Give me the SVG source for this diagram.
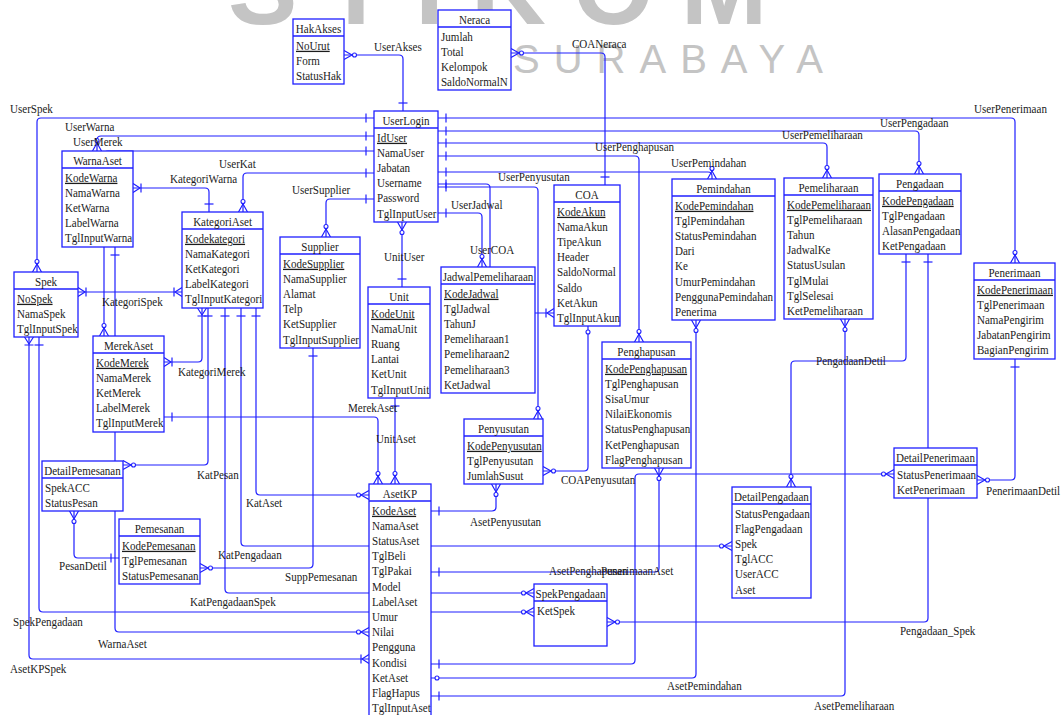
<svg xmlns="http://www.w3.org/2000/svg" width="1063" height="715" viewBox="0 0 1063 715">
<style>
  .bg { fill: #ffffff; }
  .wm { font-family: "Liberation Sans", Arial, sans-serif; fill: #c4c4c4; }
  .ln { fill: none; stroke: #1f1fff; stroke-width: 1.2; }
  .mkl { fill: none; stroke: #1f1fff; stroke-width: 1.2; }
  .mkc { fill: #ffffff; stroke: #1f1fff; stroke-width: 1.1; }
  .box { fill: #ffffff; stroke: #1f1fff; stroke-width: 1.3; }
  .sep { stroke: #1f1fff; stroke-width: 1.3; }
  .t { font-family: "Liberation Serif", "Times New Roman", serif; font-size: 13px; fill: #1c1c1c;
       transform-box: fill-box; transform-origin: 0 0; transform: scaleX(0.85); }
  .h { font-family: "Liberation Serif", "Times New Roman", serif; font-size: 13px; fill: #1c1c1c; text-anchor: middle;
       transform-box: fill-box; transform-origin: 50% 50%; transform: scaleX(0.85); }
  .k { text-decoration: underline; }
</style>
<defs>
  <!-- relationship end symbols; the path end sits on the entity border -->
  <marker id="one" viewBox="-16 -8 20 16" markerWidth="20" markerHeight="16" refX="0" refY="0" markerUnits="userSpaceOnUse" orient="auto-start-reverse">
    <path class="mkl" d="M-8,-4.5 V4.5"/>
  </marker>
  <marker id="zero" viewBox="-16 -8 20 16" markerWidth="20" markerHeight="16" refX="0" refY="0" markerUnits="userSpaceOnUse" orient="auto-start-reverse">
    <circle class="mkc" cx="-6" cy="0" r="2"/>
  </marker>
  <marker id="many0" viewBox="-16 -8 20 16" markerWidth="20" markerHeight="16" refX="0" refY="0" markerUnits="userSpaceOnUse" orient="auto-start-reverse">
    <path class="mkl" d="M-8,0 L0,-4.5 M-8,0 L0,4.5"/>
    <circle class="mkc" cx="-10.5" cy="0" r="2"/>
  </marker>
  <marker id="many1" viewBox="-16 -8 20 16" markerWidth="20" markerHeight="16" refX="0" refY="0" markerUnits="userSpaceOnUse" orient="auto-start-reverse">
    <path class="mkl" d="M-7,0 L0,-4.5 M-7,0 L0,4.5 M-8,-4.5 V4.5"/>
  </marker>
</defs>

<rect class="bg" x="0" y="0" width="1063" height="715"/>

<!-- watermark -->
<g id="watermark">
  <text class="wm" x="228" y="24" font-size="104" font-weight="bold" letter-spacing="27">STIKOM</text>
  <text class="wm" x="513" y="73" font-size="40" letter-spacing="14">SURABAYA</text>
</g>

<g id="connectors">
  <path id="UserAkses" class="ln" d="M344,55 H399 Q403,55 403,59 V111" marker-start="url(#many0)" marker-end="url(#one)"/>
  <path id="COANeraca" class="ln" d="M511,53 H601 Q605,53 605,57 V185" marker-start="url(#many0)" marker-end="url(#one)"/>
  <path id="UserSpek" class="ln" d="M374,118 H41 Q37,118 37,122 V272" marker-start="url(#one)" marker-end="url(#many0)"/>
  <path id="UserWarna" class="ln" d="M374,136 H101 Q97,136 97,140 V151" marker-start="url(#one)" marker-end="url(#many0)"/>
  <path id="UserMerek" class="ln" d="M374,151 H108 Q104,151 104,155 V336" marker-start="url(#one)" marker-end="url(#many0)"/>
  <path id="UserKat" class="ln" d="M374,173 H247 Q243,173 243,177 V212" marker-start="url(#one)" marker-end="url(#many0)"/>
  <path id="UserSupplier" class="ln" d="M374,199 H330 Q326,199 326,203 V237" marker-start="url(#one)" marker-end="url(#many0)"/>
  <path id="UserPenerimaan" class="ln" d="M438,118 H1011 Q1015,118 1015,122 V263" marker-start="url(#one)" marker-end="url(#many0)"/>
  <path id="UserPengadaan" class="ln" d="M438,131 H915 Q919,131 919,135 V174" marker-start="url(#one)" marker-end="url(#many0)"/>
  <path id="UserPemeliharaan" class="ln" d="M438,143 H823 Q827,143 827,147 V178" marker-start="url(#one)" marker-end="url(#many0)"/>
  <path id="UserPenghapusan" class="ln" d="M438,156 H635 Q639,156 639,160 V342" marker-start="url(#one)" marker-end="url(#many0)"/>
  <path id="UserPemindahan" class="ln" d="M438,172 H708 Q712,172 712,176 V179" marker-start="url(#one)" marker-end="url(#many0)"/>
  <path id="UserPenyusutan" class="ln" d="M438,187 H534 Q538,187 538,191 V419" marker-start="url(#one)" marker-end="url(#many0)"/>
  <path id="UserCOA" class="ln" d="M438,184 H486 Q490,184 490,188 V309 Q490,313 494,313 H554" marker-start="url(#one)" marker-end="url(#many1)"/>
  <path id="UserJadwal" class="ln" d="M438,213 H478 Q482,213 482,217 V267" marker-start="url(#one)" marker-end="url(#many0)"/>
  <path id="UnitUser" class="ln" d="M402,222 V287" marker-start="url(#many0)" marker-end="url(#one)"/>
  <path id="KategoriWarna" class="ln" d="M133,188 H205 Q209,188 209,192 V212" marker-start="url(#many1)" marker-end="url(#one)"/>
  <path id="KategoriSpek" class="ln" d="M78,292 H182" marker-start="url(#many1)" marker-end="url(#many1)"/>
  <path id="KategoriMerek" class="ln" d="M164,362 H198 Q202,362 202,358 V308" marker-start="url(#many1)" marker-end="url(#many1)"/>
  <path id="KatPesan" class="ln" d="M208,308 V461 Q208,465 204,465 H123" marker-start="url(#one)" marker-end="url(#many0)"/>
  <path id="KatPengadaanSpek" class="ln" d="M225,308 V589 Q225,593 229,593 H534" marker-start="url(#one)" marker-end="url(#many0)"/>
  <path id="KatPengadaan" class="ln" d="M241,308 V542 Q241,546 245,546 H732" marker-start="url(#one)" marker-end="url(#many0)"/>
  <path id="KatAset" class="ln" d="M256,308 V491 Q256,495 260,495 H369" marker-start="url(#one)" marker-end="url(#many0)"/>
  <path id="MerekAsetRel" class="ln" d="M164,417 H374 Q378,417 378,421 V484" marker-start="url(#one)" marker-end="url(#many0)"/>
  <path id="UnitAset" class="ln" d="M395,398 V484" marker-start="url(#one)" marker-end="url(#many0)"/>
  <path id="SuppPemesanan" class="ln" d="M313,348 V564 Q313,568 309,568 H200" marker-start="url(#one)" marker-end="url(#many0)"/>
  <path id="PesanDetil" class="ln" d="M74,511 V554 Q74,558 78,558 H119" marker-start="url(#many0)" marker-end="url(#one)"/>
  <path id="SpekPengadaanRel" class="ln" d="M39,337 V608 Q39,612 43,612 H534" marker-start="url(#one)" marker-end="url(#many0)"/>
  <path id="AsetKPSpek" class="ln" d="M29,337 V655 Q29,659 33,659 H369" marker-start="url(#many1)" marker-end="url(#many1)"/>
  <path id="WarnaAsetRel" class="ln" d="M115,247 V628 Q115,632 119,632 H369" marker-start="url(#one)" marker-end="url(#many0)"/>
  <path id="AsetPenyusutan" class="ln" d="M431,511 H492 Q496,511 496,507 V484" marker-start="url(#one)" marker-end="url(#many0)"/>
  <path id="COAPenyusutan" class="ln" d="M588,326 V467 Q588,471 584,471 H543" marker-start="url(#zero)" marker-end="url(#many0)"/>
  <path id="AsetPenghapusan" class="ln" d="M431,572 H655 Q659,572 659,568 V468" marker-start="url(#one)" marker-end="url(#many0)"/>
  <path id="PenerimaanAset" class="ln" d="M431,664 H631 Q635,664 635,660 V478 Q635,474 639,474 H894" marker-start="url(#one)" marker-end="url(#many0)"/>
  <path id="AsetPemindahan" class="ln" d="M431,678 H692 Q696,678 696,674 V320" marker-start="url(#zero)" marker-end="url(#many0)"/>
  <path id="AsetPemeliharaan" class="ln" d="M431,696 H841 Q845,696 845,692 V319" marker-start="url(#one)" marker-end="url(#many0)"/>
  <path id="PengadaanDetil" class="ln" d="M906,254 V357 Q906,361 902,361 H795 Q791,361 791,365 V487" marker-start="url(#one)" marker-end="url(#many0)"/>
  <path id="Pengadaan_Spek" class="ln" d="M928,254 V618 Q928,622 924,622 H607" marker-start="url(#one)" marker-end="url(#many0)"/>
  <path id="PenerimaanDetil" class="ln" d="M1015,359 V476 Q1015,480 1011,480 H977" marker-start="url(#one)" marker-end="url(#many0)"/>

  <!-- relationship names -->
  <text class="t" x="374" y="51.5">UserAkses</text>
  <text class="t" x="572" y="48.5">COANeraca</text>
  <text class="t" x="10" y="113.5">UserSpek</text>
  <text class="t" x="65" y="131.5">UserWarna</text>
  <text class="t" x="73" y="146.5">UserMerek</text>
  <text class="t" x="219" y="168.5">UserKat</text>
  <text class="t" x="170" y="183.5">KategoriWarna</text>
  <text class="t" x="292" y="194.5">UserSupplier</text>
  <text class="t" x="974" y="113.5">UserPenerimaan</text>
  <text class="t" x="880" y="127.5">UserPengadaan</text>
  <text class="t" x="782" y="139.5">UserPemeliharaan</text>
  <text class="t" x="595" y="151.5">UserPenghapusan</text>
  <text class="t" x="671" y="167.5">UserPemindahan</text>
  <text class="t" x="498" y="181.5">UserPenyusutan</text>
  <text class="t" x="451" y="209.5">UserJadwal</text>
  <text class="t" x="470" y="254.5">UserCOA</text>
  <text class="t" x="384" y="261.5">UnitUser</text>
  <text class="t" x="102" y="306.5">KategoriSpek</text>
  <text class="t" x="178" y="376.5">KategoriMerek</text>
  <text class="t" x="348" y="412.5">MerekAset</text>
  <text class="t" x="376" y="443.5">UnitAset</text>
  <text class="t" x="197" y="479.5">KatPesan</text>
  <text class="t" x="246" y="507.5">KatAset</text>
  <text class="t" x="218" y="559.5">KatPengadaan</text>
  <text class="t" x="59" y="570.5">PesanDetil</text>
  <text class="t" x="285" y="581.5">SuppPemesanan</text>
  <text class="t" x="190" y="606.5">KatPengadaanSpek</text>
  <text class="t" x="13" y="626.5">SpekPengadaan</text>
  <text class="t" x="98" y="648.5">WarnaAset</text>
  <text class="t" x="10" y="673.5">AsetKPSpek</text>
  <text class="t" x="470" y="526.5">AsetPenyusutan</text>
  <text class="t" x="561" y="484.5">COAPenyusutan</text>
  <text class="t" x="549" y="575.5">AsetPenghapusan</text>
  <text class="t" x="601" y="575.5">PenerimaanAset</text>
  <text class="t" x="667" y="690.5">AsetPemindahan</text>
  <text class="t" x="814" y="710.5">AsetPemeliharaan</text>
  <text class="t" x="816" y="365.5">PengadaanDetil</text>
  <text class="t" x="986" y="495.5">PenerimaanDetil</text>
  <text class="t" x="900" y="635.5">Pengadaan_Spek</text>
</g>

<g id="HakAkses">
  <rect class="box" x="293" y="19" width="51" height="65"/>
  <line class="sep" x1="293" y1="36" x2="344" y2="36"/>
  <text class="h" x="318.5" y="33">HakAkses</text>
  <text class="t k" x="296" y="49.7">NoUrut</text>
  <text class="t" x="296" y="64.9">Form</text>
  <text class="t" x="296" y="80.1">StatusHak</text>
</g>

<g id="Neraca">
  <rect class="box" x="438" y="10" width="73" height="80"/>
  <line class="sep" x1="438" y1="27" x2="511" y2="27"/>
  <text class="h" x="474.5" y="24">Neraca</text>
  <text class="t" x="441" y="40.7">Jumlah</text>
  <text class="t" x="441" y="55.9">Total</text>
  <text class="t" x="441" y="71.1">Kelompok</text>
  <text class="t" x="441" y="86.3">SaldoNormalN</text>
</g>

<g id="UserLogin">
  <rect class="box" x="374" y="111" width="64" height="111"/>
  <line class="sep" x1="374" y1="128" x2="438" y2="128"/>
  <text class="h" x="406" y="125">UserLogin</text>
  <text class="t k" x="377" y="141.7">IdUser</text>
  <text class="t" x="377" y="156.9">NamaUser</text>
  <text class="t" x="377" y="172.1">Jabatan</text>
  <text class="t" x="377" y="187.3">Username</text>
  <text class="t" x="377" y="202.5">Password</text>
  <text class="t" x="377" y="217.7">TglInputUser</text>
</g>

<g id="WarnaAset">
  <rect class="box" x="62" y="151" width="71" height="96"/>
  <line class="sep" x1="62" y1="168" x2="133" y2="168"/>
  <text class="h" x="97.5" y="165">WarnaAset</text>
  <text class="t k" x="65" y="181.7">KodeWarna</text>
  <text class="t" x="65" y="196.9">NamaWarna</text>
  <text class="t" x="65" y="212.1">KetWarna</text>
  <text class="t" x="65" y="227.3">LabelWarna</text>
  <text class="t" x="65" y="242.5">TglInputWarna</text>
</g>

<g id="KategoriAset">
  <rect class="box" x="182" y="212" width="81" height="96"/>
  <line class="sep" x1="182" y1="229" x2="263" y2="229"/>
  <text class="h" x="222.5" y="226">KategoriAset</text>
  <text class="t k" x="185" y="242.7">Kodekategori</text>
  <text class="t" x="185" y="257.9">NamaKategori</text>
  <text class="t" x="185" y="273.1">KetKategori</text>
  <text class="t" x="185" y="288.3">LabelKategori</text>
  <text class="t" x="185" y="303.5">TglInputKategori</text>
</g>

<g id="Spek">
  <rect class="box" x="14" y="272" width="64" height="65"/>
  <line class="sep" x1="14" y1="289" x2="78" y2="289"/>
  <text class="h" x="46" y="286">Spek</text>
  <text class="t k" x="17" y="302.7">NoSpek</text>
  <text class="t" x="17" y="317.9">NamaSpek</text>
  <text class="t" x="17" y="333.1">TglInputSpek</text>
</g>

<g id="MerekAset">
  <rect class="box" x="93" y="336" width="71" height="96"/>
  <line class="sep" x1="93" y1="353" x2="164" y2="353"/>
  <text class="h" x="128.5" y="350">MerekAset</text>
  <text class="t k" x="96" y="366.7">KodeMerek</text>
  <text class="t" x="96" y="381.9">NamaMerek</text>
  <text class="t" x="96" y="397.1">KetMerek</text>
  <text class="t" x="96" y="412.3">LabelMerek</text>
  <text class="t" x="96" y="427.5">TglInputMerek</text>
</g>

<g id="Supplier">
  <rect class="box" x="280" y="237" width="80" height="111"/>
  <line class="sep" x1="280" y1="254" x2="360" y2="254"/>
  <text class="h" x="320" y="251">Supplier</text>
  <text class="t k" x="283" y="267.7">KodeSupplier</text>
  <text class="t" x="283" y="282.9">NamaSupplier</text>
  <text class="t" x="283" y="298.1">Alamat</text>
  <text class="t" x="283" y="313.3">Telp</text>
  <text class="t" x="283" y="328.5">KetSupplier</text>
  <text class="t" x="283" y="343.7">TglInputSupplier</text>
</g>

<g id="Unit">
  <rect class="box" x="368" y="287" width="62" height="111"/>
  <line class="sep" x1="368" y1="304" x2="430" y2="304"/>
  <text class="h" x="399" y="301">Unit</text>
  <text class="t k" x="371" y="317.7">KodeUnit</text>
  <text class="t" x="371" y="332.9">NamaUnit</text>
  <text class="t" x="371" y="348.1">Ruang</text>
  <text class="t" x="371" y="363.3">Lantai</text>
  <text class="t" x="371" y="378.5">KetUnit</text>
  <text class="t" x="371" y="393.7">TglInputUnit</text>
</g>

<g id="JadwalPemeliharaan">
  <rect class="box" x="441" y="267" width="94" height="126"/>
  <line class="sep" x1="441" y1="284" x2="535" y2="284"/>
  <text class="h" x="488" y="281">JadwalPemeliharaan</text>
  <text class="t k" x="444" y="297.7">KodeJadwal</text>
  <text class="t" x="444" y="312.9">TglJadwal</text>
  <text class="t" x="444" y="328.1">TahunJ</text>
  <text class="t" x="444" y="343.3">Pemeliharaan1</text>
  <text class="t" x="444" y="358.5">Pemeliharaan2</text>
  <text class="t" x="444" y="373.7">Pemeliharaan3</text>
  <text class="t" x="444" y="388.9">KetJadwal</text>
</g>

<g id="COA">
  <rect class="box" x="554" y="185" width="66" height="141"/>
  <line class="sep" x1="554" y1="202" x2="620" y2="202"/>
  <text class="h" x="587" y="199">COA</text>
  <text class="t k" x="557" y="215.7">KodeAkun</text>
  <text class="t" x="557" y="230.9">NamaAkun</text>
  <text class="t" x="557" y="246.1">TipeAkun</text>
  <text class="t" x="557" y="261.3">Header</text>
  <text class="t" x="557" y="276.5">SaldoNormal</text>
  <text class="t" x="557" y="291.7">Saldo</text>
  <text class="t" x="557" y="306.9">KetAkun</text>
  <text class="t" x="557" y="322.1">TglInputAkun</text>
</g>

<g id="Pemindahan">
  <rect class="box" x="672" y="179" width="103" height="141"/>
  <line class="sep" x1="672" y1="196" x2="775" y2="196"/>
  <text class="h" x="723.5" y="193">Pemindahan</text>
  <text class="t k" x="675" y="209.7">KodePemindahan</text>
  <text class="t" x="675" y="224.9">TglPemindahan</text>
  <text class="t" x="675" y="240.1">StatusPemindahan</text>
  <text class="t" x="675" y="255.3">Dari</text>
  <text class="t" x="675" y="270.5">Ke</text>
  <text class="t" x="675" y="285.7">UmurPemindahan</text>
  <text class="t" x="675" y="300.9">PenggunaPemindahan</text>
  <text class="t" x="675" y="316.1">Penerima</text>
</g>

<g id="Pemeliharaan">
  <rect class="box" x="784" y="178" width="89" height="141"/>
  <line class="sep" x1="784" y1="195" x2="873" y2="195"/>
  <text class="h" x="828.5" y="192">Pemeliharaan</text>
  <text class="t k" x="787" y="208.7">KodePemeliharaan</text>
  <text class="t" x="787" y="223.9">TglPemeliharaan</text>
  <text class="t" x="787" y="239.1">Tahun</text>
  <text class="t" x="787" y="254.3">JadwalKe</text>
  <text class="t" x="787" y="269.5">StatusUsulan</text>
  <text class="t" x="787" y="284.7">TglMulai</text>
  <text class="t" x="787" y="299.9">TglSelesai</text>
  <text class="t" x="787" y="315.1">KetPemeliharaan</text>
</g>

<g id="Pengadaan">
  <rect class="box" x="879" y="174" width="82" height="80"/>
  <line class="sep" x1="879" y1="191" x2="961" y2="191"/>
  <text class="h" x="920" y="188">Pengadaan</text>
  <text class="t k" x="882" y="204.7">KodePengadaan</text>
  <text class="t" x="882" y="219.9">TglPengadaan</text>
  <text class="t" x="882" y="235.1">AlasanPengadaan</text>
  <text class="t" x="882" y="250.3">KetPengadaan</text>
</g>

<g id="Penerimaan">
  <rect class="box" x="974" y="263" width="81" height="96"/>
  <line class="sep" x1="974" y1="280" x2="1055" y2="280"/>
  <text class="h" x="1014.5" y="277">Penerimaan</text>
  <text class="t k" x="977" y="293.7">KodePenerimaan</text>
  <text class="t" x="977" y="308.9">TglPenerimaan</text>
  <text class="t" x="977" y="324.1">NamaPengirim</text>
  <text class="t" x="977" y="339.3">JabatanPengirim</text>
  <text class="t" x="977" y="354.5">BagianPengirim</text>
</g>

<g id="Penghapusan">
  <rect class="box" x="602" y="342" width="89" height="126"/>
  <line class="sep" x1="602" y1="359" x2="691" y2="359"/>
  <text class="h" x="646.5" y="356">Penghapusan</text>
  <text class="t k" x="605" y="372.7">KodePenghapusan</text>
  <text class="t" x="605" y="387.9">TglPenghapusan</text>
  <text class="t" x="605" y="403.1">SisaUmur</text>
  <text class="t" x="605" y="418.3">NilaiEkonomis</text>
  <text class="t" x="605" y="433.5">StatusPenghapusan</text>
  <text class="t" x="605" y="448.7">KetPenghapusan</text>
  <text class="t" x="605" y="463.9">FlagPenghapusan</text>
</g>

<g id="Penyusutan">
  <rect class="box" x="464" y="419" width="79" height="65"/>
  <line class="sep" x1="464" y1="436" x2="543" y2="436"/>
  <text class="h" x="503.5" y="433">Penyusutan</text>
  <text class="t k" x="467" y="449.7">KodePenyusutan</text>
  <text class="t" x="467" y="464.9">TglPenyusutan</text>
  <text class="t" x="467" y="480.1">JumlahSusut</text>
</g>

<g id="DetailPemesanan">
  <rect class="box" x="42" y="461" width="81" height="50"/>
  <line class="sep" x1="42" y1="478" x2="123" y2="478"/>
  <text class="h" x="82.5" y="475">DetailPemesanan</text>
  <text class="t" x="45" y="491.7">SpekACC</text>
  <text class="t" x="45" y="506.9">StatusPesan</text>
</g>

<g id="Pemesanan">
  <rect class="box" x="119" y="519" width="81" height="65"/>
  <line class="sep" x1="119" y1="536" x2="200" y2="536"/>
  <text class="h" x="159.5" y="533">Pemesanan</text>
  <text class="t k" x="122" y="549.7">KodePemesanan</text>
  <text class="t" x="122" y="564.9">TglPemesanan</text>
  <text class="t" x="122" y="580.1">StatusPemesanan</text>
</g>

<g id="AsetKP">
  <rect class="box" x="369" y="484" width="62" height="233"/>
  <line class="sep" x1="369" y1="501" x2="431" y2="501"/>
  <text class="h" x="400" y="498">AsetKP</text>
  <text class="t k" x="372" y="514.7">KodeAset</text>
  <text class="t" x="372" y="529.9">NamaAset</text>
  <text class="t" x="372" y="545.1">StatusAset</text>
  <text class="t" x="372" y="560.3">TglBeli</text>
  <text class="t" x="372" y="575.5">TglPakai</text>
  <text class="t" x="372" y="590.7">Model</text>
  <text class="t" x="372" y="605.9">LabelAset</text>
  <text class="t" x="372" y="621.1">Umur</text>
  <text class="t" x="372" y="636.3">Nilai</text>
  <text class="t" x="372" y="651.5">Pengguna</text>
  <text class="t" x="372" y="666.7">Kondisi</text>
  <text class="t" x="372" y="681.9">KetAset</text>
  <text class="t" x="372" y="697.1">FlagHapus</text>
  <text class="t" x="372" y="712.3">TglInputAset</text>
</g>

<g id="SpekPengadaan">
  <rect class="box" x="534" y="584" width="73" height="62"/>
  <line class="sep" x1="534" y1="601" x2="607" y2="601"/>
  <text class="h" x="570.5" y="598">SpekPengadaan</text>
  <text class="t" x="537" y="614.7">KetSpek</text>
</g>

<g id="DetailPengadaan">
  <rect class="box" x="732" y="487" width="79" height="111"/>
  <line class="sep" x1="732" y1="504" x2="811" y2="504"/>
  <text class="h" x="771.5" y="501">DetailPengadaan</text>
  <text class="t" x="735" y="517.7">StatusPengadaan</text>
  <text class="t" x="735" y="532.9">FlagPengadaan</text>
  <text class="t" x="735" y="548.1">Spek</text>
  <text class="t" x="735" y="563.3">TglACC</text>
  <text class="t" x="735" y="578.5">UserACC</text>
  <text class="t" x="735" y="593.7">Aset</text>
</g>

<g id="DetailPenerimaan">
  <rect class="box" x="894" y="448" width="83" height="50"/>
  <line class="sep" x1="894" y1="465" x2="977" y2="465"/>
  <text class="h" x="935.5" y="462">DetailPenerimaan</text>
  <text class="t" x="897" y="478.7">StatusPenerimaan</text>
  <text class="t" x="897" y="493.9">KetPenerimaan</text>
</g>
</svg>
